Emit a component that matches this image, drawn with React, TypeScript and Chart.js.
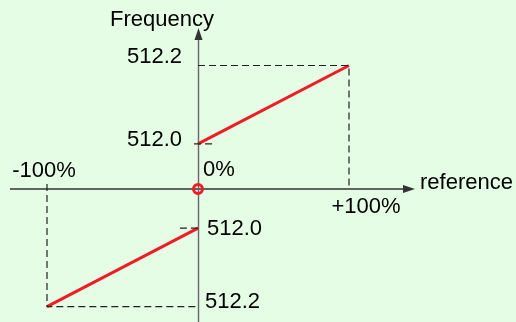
import React, { useEffect, useRef } from "react";
import { Chart, registerables } from "chart.js";

Chart.register(...registerables);

// ---- data ----
const referenceTicks = [-100, 0, 100]; // % of reference
const referenceTickLabels = ["-100%", "0%", "+100%"];
const upperRef = [0, 100];
const upperFreq = [512.0, 512.2];
const lowerRef = [-100, 0];
const lowerFreq = [512.2, 512.0];
const freqLabels = ["512.0", "512.2"];
const axisTitleX = "reference";
const axisTitleY = "Frequency";

// schematic (broken) frequency axis: distance from the reference axis
const UPPER_BASE = 511.885;
const LOWER_BASE = 511.9;
const up = (f: number) => f - UPPER_BASE;
const down = (f: number) => -(f - LOWER_BASE);

const RED = "#ee1c25";
const DASH = "#222222";
const FONT = '22px "Liberation Sans", Arial, sans-serif';

export default function App() {
  const ref = useRef<HTMLCanvasElement | null>(null);

  useEffect(() => {
    if (!ref.current) return;

    const upperHigh = up(upperFreq[1]); // 512.2 above
    const upperLow = up(upperFreq[0]); // 512.0 above
    const lowerHigh = down(lowerFreq[0]); // 512.2 below
    const lowerLow = down(lowerFreq[1]); // 512.0 below

    const axesPlugin = {
      id: "axes",
      beforeDatasetsDraw(chart: any) {
        const { ctx } = chart;
        const xs = chart.scales.x;
        const ys = chart.scales.y;
        const ox = Math.round(xs.getPixelForValue(0)) + 0.5;
        const oy = ys.getPixelForValue(0);
        ctx.save();
        ctx.strokeStyle = "#333";
        ctx.fillStyle = "#333";
        ctx.lineWidth = 1.4;
        ctx.beginPath();
        ctx.moveTo(10, oy);
        ctx.lineTo(405, oy);
        ctx.stroke();
        ctx.beginPath();
        ctx.moveTo(415, oy);
        ctx.lineTo(403, oy - 4);
        ctx.lineTo(403, oy + 4);
        ctx.closePath();
        ctx.fill();
        ctx.strokeStyle = "#666";
        ctx.fillStyle = "#333";
        ctx.beginPath();
        ctx.moveTo(ox, chart.height);
        ctx.lineTo(ox, 38);
        ctx.stroke();
        ctx.beginPath();
        ctx.moveTo(ox, 28);
        ctx.lineTo(ox - 4, 40);
        ctx.lineTo(ox + 4, 40);
        ctx.closePath();
        ctx.fill();
        ctx.restore();
      },
      afterDraw(chart: any) {
        const { ctx } = chart;
        const xs = chart.scales.x;
        const ys = chart.scales.y;
        const ox = xs.getPixelForValue(0);
        const oy = ys.getPixelForValue(0);
        ctx.save();
        ctx.font = FONT;
        ctx.fillStyle = "#000";
        ctx.textBaseline = "alphabetic";
        ctx.textAlign = "left";
        ctx.fillText(axisTitleY, 110, 26);
        ctx.fillText(axisTitleX, 420, oy);
        ctx.textAlign = "center";
        ctx.fillText(referenceTickLabels[0], xs.getPixelForValue(referenceTicks[0]) - 3, oy - 12);
        ctx.textAlign = "left";
        ctx.fillText(referenceTickLabels[1], xs.getPixelForValue(referenceTicks[1]) + 5, oy - 13);
        ctx.textAlign = "center";
        ctx.fillText(referenceTickLabels[2], xs.getPixelForValue(referenceTicks[2]) + 17, oy + 24);
        ctx.textAlign = "right";
        ctx.fillText(freqLabels[1], ox - 16, ys.getPixelForValue(upperHigh) - 3);
        ctx.fillText(freqLabels[0], ox - 16, ys.getPixelForValue(upperLow) + 2);
        ctx.textAlign = "left";
        ctx.fillText(freqLabels[0], ox + 9, ys.getPixelForValue(lowerLow) + 7);
        ctx.fillText(freqLabels[1], ox + 7, ys.getPixelForValue(lowerHigh) + 1);
        ctx.restore();
      },
    };

    const dashed = {
      borderColor: DASH,
      borderWidth: 1.2,
      borderDash: [7, 4],
      pointRadius: 0,
      fill: false,
      tension: 0,
    };

    const chart = new Chart(ref.current, {
      type: "scatter",
      data: {
        datasets: [
          {
            ...dashed,
            showLine: true,
            data: [
              { x: upperRef[0], y: upperHigh },
              { x: upperRef[1], y: upperHigh },
              { x: upperRef[1], y: 0 },
            ],
          },
          {
            ...dashed,
            showLine: true,
            data: [
              { x: lowerRef[0], y: 0.013 },
              { x: lowerRef[0], y: lowerHigh },
              { x: lowerRef[1], y: lowerHigh },
            ],
          },
          {
            ...dashed,
            showLine: true,
            data: [
              { x: -2.6, y: upperLow },
              { x: 12, y: upperLow },
            ],
          },
          {
            ...dashed,
            showLine: true,
            data: [
              { x: -12, y: lowerLow },
              { x: 0, y: lowerLow },
            ],
          },
          {
            showLine: true,
            borderColor: RED,
            borderWidth: 3,
            pointRadius: 0,
            data: upperRef.map((r, i) => ({ x: r, y: up(upperFreq[i]) })),
          },
          {
            showLine: true,
            borderColor: RED,
            borderWidth: 3,
            pointRadius: 0,
            data: lowerRef.map((r, i) => ({ x: r, y: down(lowerFreq[i]) })),
          },
          {
            showLine: false,
            pointRadius: 4.5,
            borderWidth: 3,
            borderColor: RED,
            backgroundColor: "rgba(0,0,0,0)",
            data: [{ x: referenceTicks[1], y: 0 }],
          },
        ],
      },
      options: {
        animation: false,
        responsive: false,
        events: [],
        layout: { padding: 0, autoPadding: false },
        plugins: {
          legend: { display: false },
          tooltip: { enabled: false },
        },
        scales: {
          x: { type: "linear", display: false, min: -131.13, max: 210.6 },
          y: { type: "linear", display: false, min: -0.3393, max: 0.4821 },
        },
        datasets: { scatter: { clip: false } as any },
      } as any,
      plugins: [axesPlugin],
    });
    return () => chart.destroy();
  }, []);

  return (
    <div
      style={{
        position: "fixed",
        left: 0,
        top: 0,
        width: 516,
        height: 322,
        background: "#e5fce5",
      }}
    >
      <canvas ref={ref} width={516} height={322} style={{ display: "block" }} />
    </div>
  );
}
